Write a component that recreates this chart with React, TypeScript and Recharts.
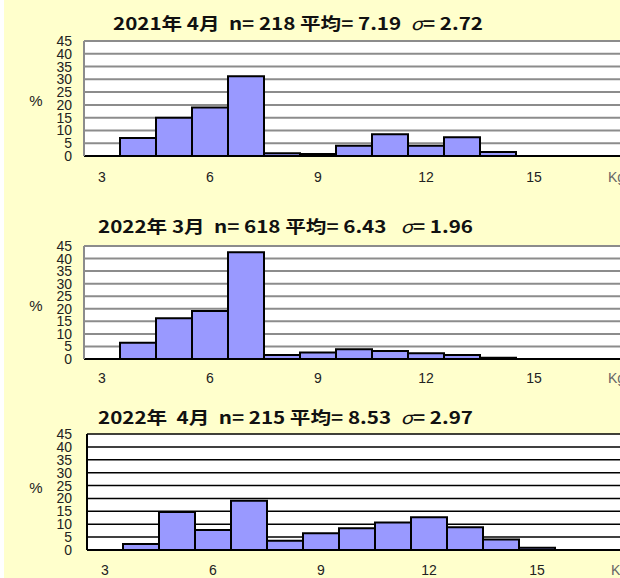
import React from 'react';
import { BarChart, Bar, XAxis, YAxis, CartesianGrid } from 'recharts';

// weight classes (Kg), one bar per 1 Kg bin
const kgBins = [3, 4, 5, 6, 7, 8, 9, 10, 11, 12, 13, 14, 15, 16, 17];
const xLabels: Record<number, string> = { 3: '3', 6: '6', 9: '9', 12: '12', 15: '15', 17: 'Kg' };
const yTicks = [0, 5, 10, 15, 20, 25, 30, 35, 40, 45];

// share of fish per bin (%)
const pct2021Apr = [0, 7, 15, 19, 31.2, 1.1, 0.8, 4, 8.5, 4, 7.3, 1.6, 0, 0, 0];
const pct2022Mar = [0, 6.5, 16.2, 19.1, 42.5, 1.6, 2.6, 3.9, 3.2, 2.3, 1.6, 0.5, 0, 0, 0];
const pct2022Apr = [0, 2.3, 14.7, 7.8, 19.1, 3.6, 6.5, 8.4, 10.7, 12.7, 8.8, 4.1, 0.9, 0, 0];

const title2021Apr = ['2021年 4月  n= 218 平均= 7.19  ', '= 2.72'];
const title2022Mar = ['2022年 3月  n= 618 平均= 6.43   ', '= 1.96'];
const title2022Apr = ['2022年  4月  n= 215 平均= 8.53  ', '= 2.97'];

const NUM_FONT = '"Liberation Sans", Arial, sans-serif';
const JP_FONT = '"Noto Sans CJK JP", "Liberation Sans", sans-serif';

type PanelProps = {
  title: string[];
  values: number[];
  height: number;
  top: number;
  bottom: number;
  left: number;
  gridColor: string;
  gridWidth: number;
  titleX: number;
  titleY: number;
  titleLen: number;
  pctY: number;
  tickGap: number;
};

const XTick = (props: any) => {
  const { x, y, payload } = props;
  const label = xLabels[payload.value];
  if (!label) return null;
  const unit = label === 'Kg';
  return (
    <text
      x={unit ? x + 2 : x}
      y={y}
      dy="0.71em"
      textAnchor={unit ? 'start' : 'middle'}
      fill={unit ? '#666' : '#222'}
      fontSize={14}
      fontFamily={NUM_FONT}
    >
      {label}
    </text>
  );
};

const Panel = (p: PanelProps) => {
  const data = kgBins.map((kg, i) => ({ kg, pct: p.values[i] }));
  const W = 640;
  const plotRight = p.left + 1 + 540;
  return (
    <div style={{ position: 'relative', width: 620, height: p.height, overflow: 'hidden', background: '#ffffcc' }}>
      <BarChart
        width={W}
        height={p.height}
        data={data}
        barCategoryGap={0}
        margin={{ top: p.top, right: W - plotRight, bottom: 0, left: 1 }}
      >
        <CartesianGrid vertical={false} stroke={p.gridColor} strokeWidth={p.gridWidth} fill="#ffffff" />
        <XAxis
          dataKey="kg"
          interval={0}
          height={p.bottom}
          tickLine={false}
          tickSize={0}
          tickMargin={p.tickGap}
          axisLine={{ stroke: '#000', strokeWidth: 2 }}
          tick={(t: any) => <XTick {...t} />}
        />
        <YAxis
          domain={[0, 45]}
          ticks={yTicks}
          interval={0}
          width={p.left}
          tickLine={false}
          tickSize={0}
          tickMargin={p.left - 71}
          axisLine={{ stroke: p.gridColor, strokeWidth: 2 }}
          tick={{ fontSize: 14, fill: '#222', fontFamily: NUM_FONT }}
        />
        <Bar dataKey="pct" fill="#9999ff" stroke="#000" strokeWidth={2} isAnimationActive={false} />
      </BarChart>
      <svg width={620} height={p.height} style={{ position: 'absolute', left: 0, top: 0, pointerEvents: 'none' }}>
        <rect x={0} y={0} width={4} height={p.height} fill="#ffffff" />
        <text
          x={p.titleX}
          y={p.titleY}
          dominantBaseline="central"
          fontSize={17}
          fontWeight="bold"
          fontFamily={JP_FONT}
          fill="#111"
          textLength={p.titleLen}
          lengthAdjust="spacingAndGlyphs"
          style={{ whiteSpace: 'pre' }}
        >
          {p.title[0]}
          <tspan fontStyle="italic" fontWeight="normal">σ</tspan>
          {p.title[1]}
        </text>
        <text x={36} y={p.pctY} dominantBaseline="central" textAnchor="middle" fontSize={15} fontFamily={NUM_FONT} fill="#222">
          %
        </text>
      </svg>
    </div>
  );
};

export default function App() {
  return (
    <div style={{ position: 'absolute', left: 0, top: 0, width: 620, height: 578, background: '#fff' }}>
      <Panel
        title={title2021Apr}
        values={pct2021Apr}
        height={196}
        top={41}
        bottom={40}
        left={83}
        gridColor="#8c8c8c"
        gridWidth={2}
        titleX={113}
        titleY={22}
        titleLen={370}
        pctY={100}
        tickGap={16}
      />
      <Panel
        title={title2022Mar}
        values={pct2022Mar}
        height={194}
        top={50}
        bottom={31}
        left={83}
        gridColor="#8c8c8c"
        gridWidth={2}
        titleX={98}
        titleY={29}
        titleLen={375}
        pctY={109}
        tickGap={14}
      />
      <Panel
        title={title2022Apr}
        values={pct2022Apr}
        height={188}
        top={44}
        bottom={28}
        left={86}
        gridColor="#000000"
        gridWidth={1.5}
        titleX={98}
        titleY={26}
        titleLen={375}
        pctY={97}
        tickGap={15}
      />
    </div>
  );
}
